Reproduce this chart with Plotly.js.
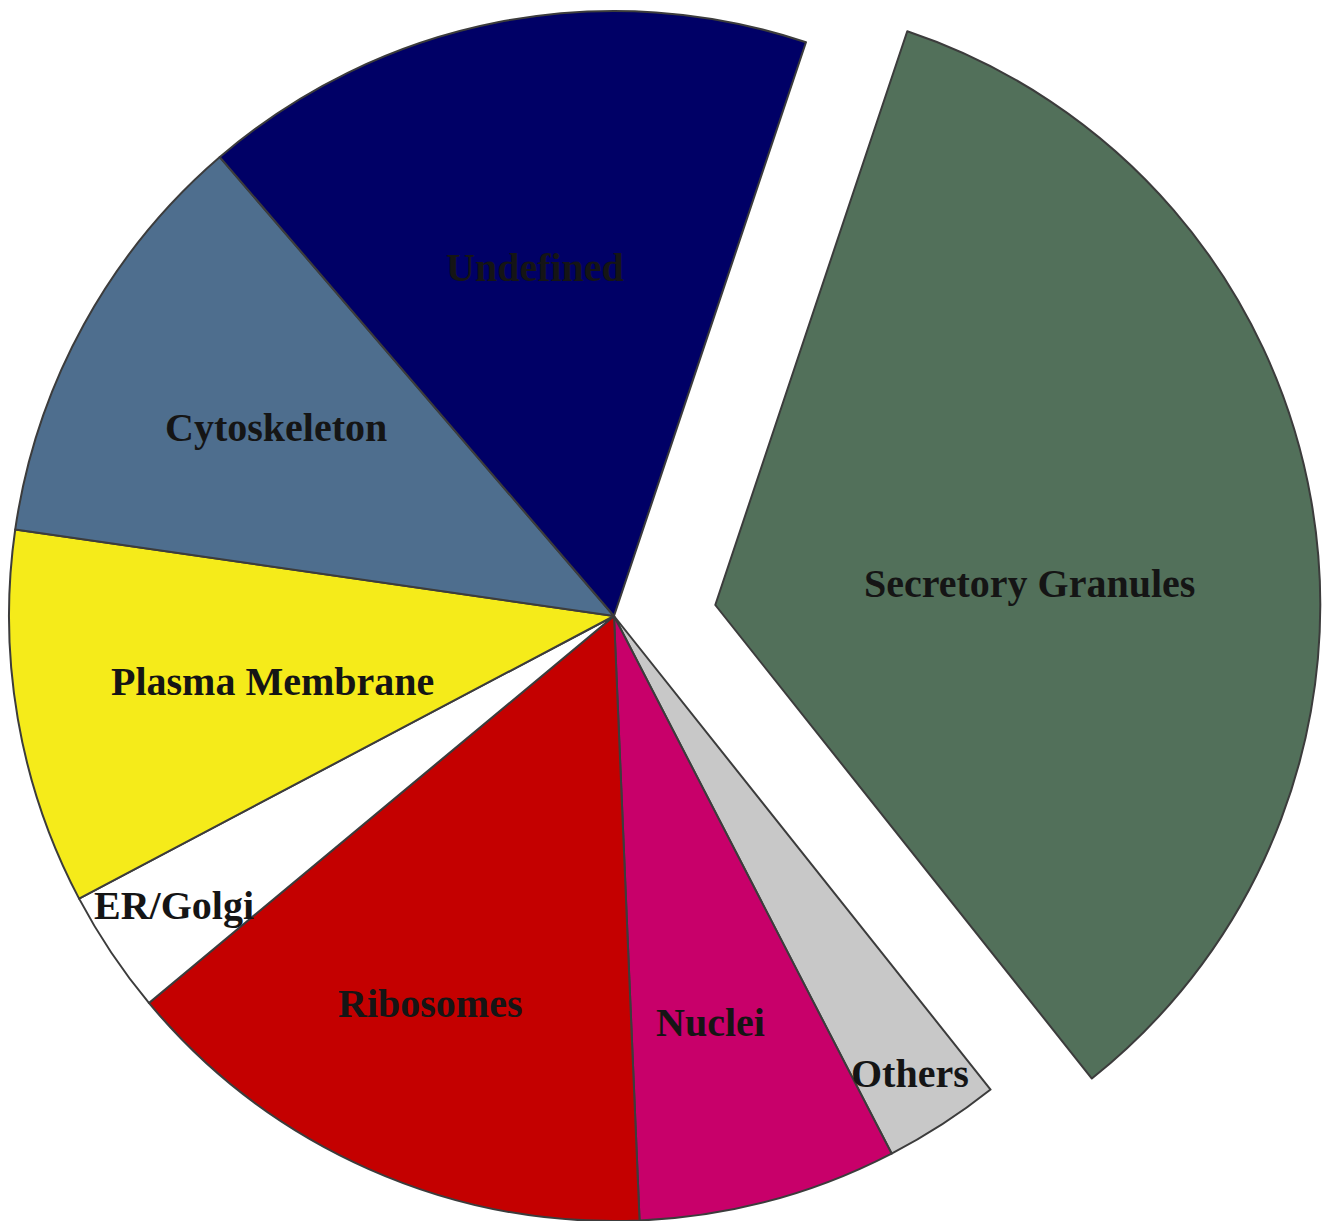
<!DOCTYPE html>
<html>
<head>
<meta charset="utf-8">
<script src="https://cdn.plot.ly/plotly-3.0.1.min.js"></script>
<style>
html,body{margin:0;padding:0;background:#ffffff;overflow:hidden}
#chart{width:1331px;height:1221px}
</style>
</head>
<body>
<div id="chart"></div>
<script>
// ---- data ----
const categories = ["Secretory Granules", "Others", "Nuclei", "Ribosomes", "ER/Golgi", "Plasma Membrane", "Cytoskeleton", "Undefined"];
const shares = [34.1, 3.1, 6.9, 14.6, 3.3, 10.0, 11.4, 16.4];
const pulledCategory = "Secretory Granules";

// ---- style ----
const sliceColors = ["#52705a", "#c8c8c8", "#c8006a", "#c40000", "#ffffff", "#f5eb1a", "#4e6e8e", "#000066"];
const edgeColor = "#3c3c3c";
const edgeWidth = 2;
const startAngle = 18.5;          // degrees clockwise from 12 o'clock
const W = 1331, H = 1221;
const CX = 614, CY = 616, R = 605; // pie centre and radius in pixels
const pullFrac = 0.17;
const labelRadius = [0.52, 0.90, 0.69, 0.71, 0.87, 0.575, 0.64, 0.59];
const labelTurn = [6, 0, 1.5, 1.5, 0.5, -1, 0.4, -1.7];
const labelFont = {family: "Liberation Serif, Times New Roman, serif", size: 40, color: "#151515", weight: "bold"};

// ---- geometry derived from the data ----
const total = shares.reduce((a, b) => a + b, 0);
const pIdx = categories.indexOf(pulledCategory);
const starts = [];
let acc = 0;
shares.forEach(v => { starts.push(startAngle + acc / total * 360); acc += v; });
const mids = shares.map((v, i) => starts[i] + v / total * 180);

const rad = d => d * Math.PI / 180;
const pm = mids[pIdx];
const pullPx = pullFrac * R;
let bx = CX + pullPx * Math.sin(rad(pm));
let by = CY - pullPx * Math.cos(rad(pm));
const RB = R;
if (by < RB) by = RB;
if (H - by < RB) by = H - RB;

function domainFor(cx, cy, r) {
  return {
    x: [Math.max(0, (cx - r) / W), Math.min(1, (cx + r) / W)],
    y: [Math.max(0, 1 - (cy + r) / H), Math.min(1, 1 - (cy - r) / H)]
  };
}

const mainColors = sliceColors.map((c, i) => i === pIdx ? "rgba(0,0,0,0)" : c);
const mainWidths = shares.map((v, i) => i === pIdx ? 0 : edgeWidth);

const traceMain = {
  type: "pie",
  labels: categories,
  values: shares,
  sort: false,
  direction: "clockwise",
  rotation: startAngle,
  domain: domainFor(CX, CY, R),
  marker: {colors: mainColors, line: {color: edgeColor, width: mainWidths}},
  textinfo: "none",
  hoverinfo: "label+percent",
  showlegend: false
};

const restTotal = total - shares[pIdx];
const tracePulled = {
  type: "pie",
  labels: [categories[pIdx], "rest"],
  values: [shares[pIdx], restTotal],
  sort: false,
  direction: "clockwise",
  rotation: starts[pIdx],
  domain: domainFor(bx, by, RB),
  marker: {colors: [sliceColors[pIdx], "rgba(0,0,0,0)"], line: {color: [edgeColor, "rgba(0,0,0,0)"], width: [edgeWidth, 0]}},
  textinfo: "none",
  hoverinfo: "skip",
  showlegend: false
};

const annotations = categories.map((name, i) => {
  const a = rad(mids[i] + labelTurn[i]);
  const cx = i === pIdx ? bx : CX;
  const cy = i === pIdx ? by : CY;
  const r = labelRadius[i] * (i === pIdx ? RB : R);
  const px = cx + r * Math.sin(a);
  const py = cy - r * Math.cos(a);
  return {
    text: name,
    x: px / W, y: 1 - py / H,
    xref: "paper", yref: "paper",
    xanchor: "center", yanchor: "middle",
    showarrow: false,
    font: labelFont
  };
});

const layout = {
  width: W, height: H,
  margin: {l: 0, r: 0, t: 0, b: 0, pad: 0},
  paper_bgcolor: "#ffffff",
  plot_bgcolor: "#ffffff",
  showlegend: false,
  annotations: annotations
};

Plotly.newPlot("chart", [traceMain, tracePulled], layout, {displayModeBar: false, staticPlot: true});
</script>
</body>
</html>
